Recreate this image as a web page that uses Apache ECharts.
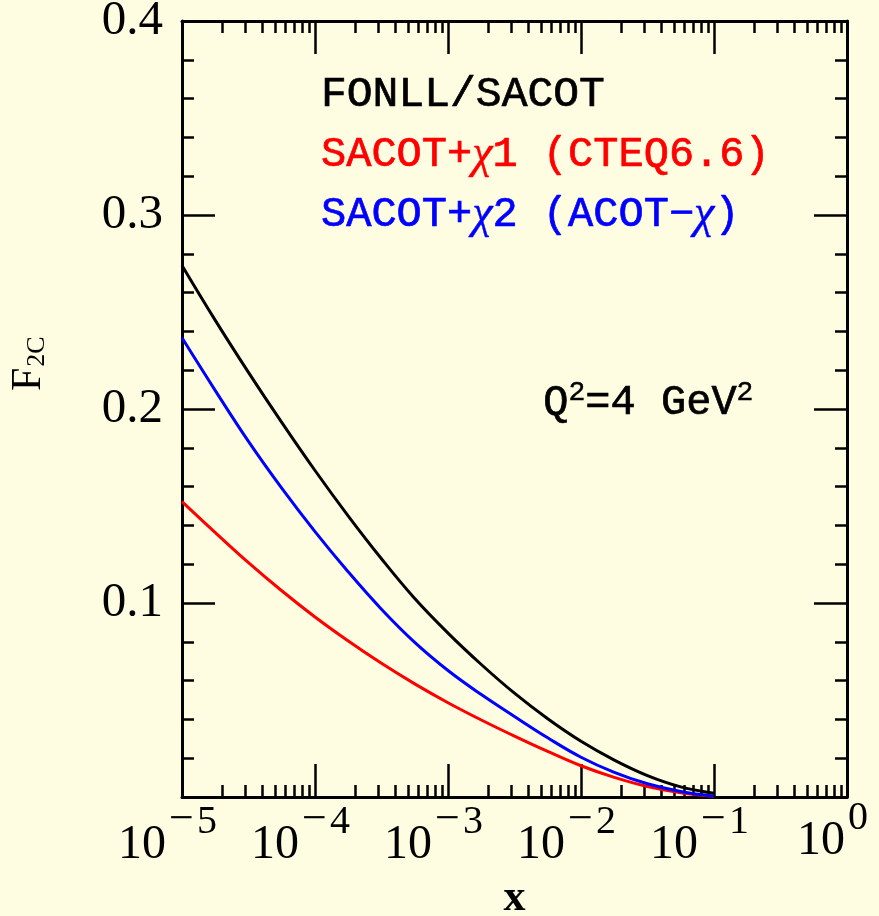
<!DOCTYPE html>
<html>
<head>
<meta charset="UTF-8">
<script src="https://cdn.jsdelivr.net/npm/echarts@6.0.0/dist/echarts.min.js"></script>
<style>
    html, body { margin:0; padding:0; background:#FFFDE1; }
    #main { width:879px; height:916px; }
</style>
</head>
<body>
<div id="main"></div>
<script>
// x sampling points (quarter decades)
var xValues = [1e-5, 1.78e-5, 3.16e-5, 5.62e-5, 1e-4, 1.78e-4, 3.16e-4, 5.62e-4,
               1e-3, 1.78e-3, 3.16e-3, 5.62e-3, 1e-2, 1.78e-2, 3.16e-2, 5.62e-2, 1e-1];
// F2c
var fonllSacot = [0.274, 0.2457, 0.2189, 0.1931, 0.1683, 0.1448, 0.1228, 0.1023,
                  0.0845, 0.0683, 0.0535, 0.0403, 0.0287, 0.019, 0.011, 0.0052, 0.0019];
var sacotChi1  = [0.1523, 0.1363, 0.1208, 0.1063, 0.0928, 0.0804, 0.0689, 0.0583,
                  0.0486, 0.0397, 0.0314, 0.0235, 0.0161, 0.0101, 0.0054, 0.0022, 0.0004];
var sacotChi2  = [0.2367, 0.2095, 0.1833, 0.1592, 0.1368, 0.116, 0.0968, 0.0797,
                  0.0652, 0.0528, 0.0415, 0.0305, 0.0205, 0.0127, 0.0068, 0.0028, 0.0004];
var seriesNames = ['FONLL/SACOT', 'SACOT+χ1 (CTEQ6.6)', 'SACOT+χ2 (ACOT−χ)'];
var yTicks = [0.1, 0.2, 0.3, 0.4];

function pairs(ys) {
    return xValues.map(function (x, i) { return [x, ys[i]]; });
}

var serif = 'Liberation Serif';
var mono = 'Liberation Mono';
var ink = '#000';

function xAxisDef(pos, showLabel) {
    return {
        type: 'log', logBase: 10, min: 1e-5, max: 1, position: pos,
        axisLine: { show: true, onZero: false, lineStyle: { color: ink, width: 3 } },
        axisTick: { show: true, inside: true, length: 33, lineStyle: { color: ink, width: 2.5 } },
        minorTick: { show: true, splitNumber: 9, length: 12, lineStyle: { color: ink, width: 2.5 } },
        splitLine: { show: false },
        minorSplitLine: { show: false },
        axisLabel: {
            show: showLabel, margin: 1,
            formatter: function (v) {
                var e = Math.round(Math.log(v) / Math.LN10);
                if (e < 0) return '{b|10}{m|−}{e|' + (-e) + '}';
                return '{b|10}{e0|' + e + '}';
            },
            rich: {
                b: { fontFamily: serif, fontSize: 48, color: ink, verticalAlign: 'bottom' },
                m: { fontFamily: serif, fontSize: 44, color: ink, verticalAlign: 'bottom', padding: [0, 3, 27, 3] },
                e: { fontFamily: serif, fontSize: 40, color: ink, verticalAlign: 'bottom', padding: [0, 29, 27, 0] },
                e0: { fontFamily: serif, fontSize: 40, color: ink, verticalAlign: 'bottom', padding: [0, 29, 27, 3] }
            }
        }
    };
}

function yAxisDef(pos, showLabel) {
    return {
        type: 'value', min: 0, max: 0.4, interval: 0.1, position: pos,
        axisLine: { show: true, onZero: false, lineStyle: { color: ink, width: 3 } },
        axisTick: { show: true, inside: true, length: 33, lineStyle: { color: ink, width: 2.5 } },
        minorTick: { show: true, splitNumber: 5, length: 12, lineStyle: { color: ink, width: 2.5 } },
        splitLine: { show: false },
        axisLabel: {
            show: showLabel, margin: 19, color: ink, fontFamily: serif, fontSize: 49,
            formatter: function (v) {
                for (var i = 0; i < yTicks.length; i++) {
                    if (Math.abs(v - yTicks[i]) < 1e-9) return yTicks[i].toFixed(1);
                }
                return '';
            }
        }
    };
}

function tt(color, extra) {
    var s = { fontFamily: mono, fontSize: 42, color: color, lineHeight: 48,
              textBorderColor: color, textBorderWidth: 0.7 };
    return Object.assign(s, extra || {});
}

var chart = echarts.init(document.getElementById('main'));
chart.setOption({
    backgroundColor: '#FFFDE1',
    animation: false,
    grid: { left: 182, right: 32, top: 21, bottom: 119, containLabel: false, outerBoundsMode: 'none' },
    xAxis: [
        Object.assign(xAxisDef('bottom', true), {
            name: 'x', nameLocation: 'middle', nameGap: 80,
            nameTextStyle: { fontFamily: serif, fontSize: 44, fontWeight: 'bold', color: ink }
        }),
        xAxisDef('top', false)
    ],
    yAxis: [yAxisDef('left', true), yAxisDef('right', false)],
    legend: {
        orient: 'vertical', left: 311, top: 66, icon: 'none',
        itemWidth: 0, itemHeight: 0, itemGap: 12, selectedMode: false,
        data: seriesNames,
        formatter: function (name) {
            if (name === seriesNames[0]) return '{k|FONLL/SACOT}';
            if (name === seriesNames[1]) return '{r|SACOT+}{ri|χ}{r|1 (CTEQ6.6)}';
            return '{b|SACOT+}{bi|χ}{b|2 (ACOT−}{bi|χ}{b|)}';
        },
        textStyle: {
            fontFamily: mono, fontSize: 43, lineHeight: 48,
            rich: {
                k:  tt('#000000', { fontSize: 43 }),
                r:  tt('#FF0000'),
                ri: tt('#FF0000', { fontFamily: serif, fontStyle: 'italic', fontSize: 46, textBorderWidth: 0.4 }),
                b:  tt('#0000FF'),
                bi: tt('#0000FF', { fontFamily: serif, fontStyle: 'italic', fontSize: 46, textBorderWidth: 0.4 })
            }
        }
    },
    graphic: [
        {
            type: 'text', left: 543, top: 378,
            style: {
                text: '{t|Q}{s|2}{t|=4 GeV}{s|2}',
                rich: {
                    t: { fontFamily: mono, fontSize: 42, fill: ink, stroke: ink, lineWidth: 0.7, verticalAlign: 'bottom' },
                    s: { fontFamily: mono, fontSize: 28, fill: ink, stroke: ink, lineWidth: 0.5, verticalAlign: 'bottom', padding: [0, 0, 18, 0] }
                }
            }
        },
        {
            type: 'text', x: 50, y: 391, rotation: Math.PI / 2,
            style: {
                text: '{f|F}{c|2C}',
                verticalAlign: 'bottom', align: 'left',
                rich: {
                    f: { fontFamily: serif, fontSize: 42, fill: ink, verticalAlign: 'bottom' },
                    c: { fontFamily: serif, fontSize: 26, fill: ink, verticalAlign: 'bottom', padding: [0, 0, 0, 1] }
                }
            }
        }
    ],
    series: [
        { name: seriesNames[1], type: 'line', data: pairs(sacotChi1), showSymbol: false, smooth: 0.4,
          lineStyle: { color: '#FF0000', width: 3 }, itemStyle: { color: '#FF0000' } },
        { name: seriesNames[2], type: 'line', data: pairs(sacotChi2), showSymbol: false, smooth: 0.4,
          lineStyle: { color: '#0000FF', width: 3 }, itemStyle: { color: '#0000FF' } },
        { name: seriesNames[0], type: 'line', data: pairs(fonllSacot), showSymbol: false, smooth: 0.4,
          lineStyle: { color: '#000000', width: 3 }, itemStyle: { color: '#000000' } }
    ]
});
</script>
</body>
</html>
